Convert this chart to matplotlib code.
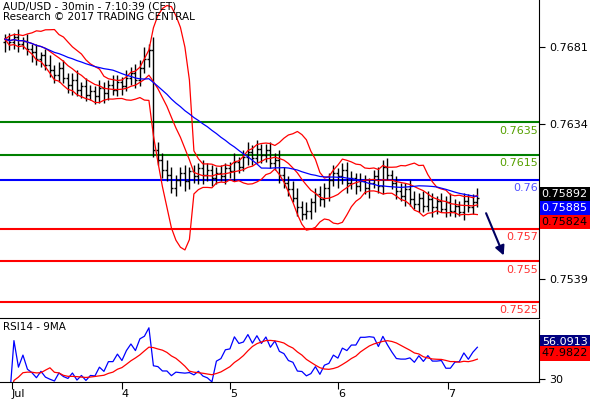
import numpy as np
import pandas as pd
import matplotlib
matplotlib.use("Agg")
import matplotlib.pyplot as plt

closes = [0.7686,0.7684,0.7687,0.7683,0.7685,0.7680,
          0.7678,0.7674,0.7676,0.7670,0.7667,0.7664,0.7668,
          0.7662,0.7658,0.7661,0.7655,0.7657,0.7652,0.7654,
          0.7651,0.7656,0.7653,0.7658,0.7655,0.7660,0.7657,
          0.7662,0.7665,0.7661,0.7668,0.7674,0.7679,0.7618,
          0.7612,0.7606,0.7603,0.7595,0.7600,0.7604,0.7599,
          0.7605,0.7602,0.7607,0.7603,0.7606,0.7601,0.7604,0.7602,0.7607,0.7605,
          0.7611,0.7608,0.7614,0.7617,0.7613,0.7619,0.7615,0.7618,
          0.7610,0.7612,0.7603,0.7598,0.7594,
          0.7589,0.7583,0.7579,0.7581,0.7586,
          0.7591,0.7588,0.7595,0.7600,0.7604,
          0.7602,0.7606,0.7598,0.7601,0.7596,0.7599,0.7595,
          0.7598,0.7602,0.7596,0.7608,0.7603,
          0.7598,0.7593,0.7590,0.7594,0.7588,0.7585,0.7589,0.7584,
          0.7588,0.7583,0.7587,0.7582,0.7586,0.7581,0.7584,0.7580,0.7587,0.7583,
          0.7586,0.7589]
open0 = 0.7684
wicks = [3,4,3,5,2,4,3,5,2,4,6,3,4,5,3,4,6,3,5,4,3,5,4,3,6,4,3,5,4,6,5,7,
         4,8,5,4,6,5,3,4,5,3,4,3,5,4,3,4,5,3,4,5,3,4,6,4,5,3,4,5,4,6,5,4,
         5,6,4,5,3,4,5,3,4,5,3,4,5,4,3,5,4,3,4,6,4,5,3,4,5,4,6,5,3,4,5,4,
         3,5,4,6,4,3,5,4,5,6]
level_values = [0.7635, 0.7615, 0.76, 0.757, 0.755, 0.7525]
level_labels = ["0.7635", "0.7615", "0.76", "0.757", "0.755", "0.7525"]
level_colors = ["#008000", "#008000", "#0000ff", "#ff0000", "#ff0000", "#ff0000"]
level_text_colors = ["#55a000", "#55a000", "#5050ff", "#ff3030", "#ff3030", "#ff3030"]
price_ticks = [0.7681, 0.7634, 0.7539]
day_pos = [1.5, 26, 50, 74, 98.4]
day_labels = ["Jul", "4", "5", "6", "7"]

c = pd.Series(closes)
opens = pd.Series([open0] + closes[:-1])
hi = np.maximum(opens, c) + np.array(wicks) * 0.0001
lo = np.minimum(opens, c) - np.array(wicks[::-1]) * 0.0001
x = np.arange(len(c))

mid = c.rolling(10, min_periods=1).mean()
sd = c.rolling(10, min_periods=2).std().fillna(0)
up, dn = mid + 2 * sd, mid - 2 * sd
ma = c.rolling(25, min_periods=1).mean()

d = c.diff().fillna(0)
g = d.clip(lower=0).rolling(14, min_periods=1).mean()
l = (-d.clip(upper=0)).rolling(14, min_periods=1).mean()
rsi = 100 * g / (g + l).replace(0, 1e-9)
rsi = 50 + (rsi - 50) * 0.7
rsi_ma = rsi.rolling(9, min_periods=1).mean()

fig = plt.figure(figsize=(5.9, 4.0), dpi=100)
ax = fig.add_axes([0, 0.205, 539/590, 0.795])
ax2 = fig.add_axes([0, 0.045, 539/590, 0.155])
xl = (-1.1, 118.7)
for a in (ax, ax2):
    a.set_xlim(*xl)
    a.yaxis.tick_right()
    for s in ("left", "top"):
        a.spines[s].set_visible(False)
    a.tick_params(labelsize=8, direction="out", length=4)
ax.set_ylim(0.75153, 0.77099)

for v, lab, col, tc in zip(level_values, level_labels, level_colors, level_text_colors):
    ax.axhline(v, color=col, lw=1.5)
    ax.text(118.4, v - 0.0002, lab, color=tc, ha="right", va="top", fontsize=8)

ax.vlines(x, lo, hi, color="black", lw=1)
ax.hlines(c, x, x + 0.45, color="black", lw=1)
ax.hlines(opens, x - 0.45, x, color="black", lw=1)
ax.plot(x, up, color="red", lw=0.9)
ax.plot(x, dn, color="red", lw=0.9)
ax.plot(x, mid, color="red", lw=0.9)
ax.plot(x, ma, color="blue", lw=0.9)
ax.annotate("", xy=(111.1, 0.7552), xytext=(106.7, 0.7581),
            arrowprops=dict(arrowstyle="-|>", color="#000060", lw=1.5, mutation_scale=14))
ax.set_yticks(price_ticks)
ax.set_yticklabels([f"{t:.4f}" for t in price_ticks])
ax.set_xticks([])
ax.text(0.005, 0.995, "AUD/USD - 30min - 7:10:39 (CET)\nResearch © 2017 TRADING CENTRAL",
        transform=ax.transAxes, ha="left", va="top", fontsize=7.5, linespacing=1.1)

yt = ax.get_yaxis_transform()
ax.text(1.005, 0.75892 + 0.0002, "0.75892", transform=yt, color="white",
        fontsize=8, va="center", bbox=dict(fc="black", ec="none", pad=1.5))
ax.text(1.005, 0.75892 - 0.00065, "0.75885", transform=yt, color="white",
        fontsize=8, va="center", bbox=dict(fc="blue", ec="none", pad=1.5))
ax.text(1.005, 0.75892 - 0.0015, "0.75824", transform=yt, color="black",
        fontsize=8, va="center", bbox=dict(fc="red", ec="none", pad=1.5))

ax2.set_ylim(27.9, 71.5)
ax2.plot(x, rsi, color="blue", lw=0.9)
ax2.plot(x, rsi_ma, color="red", lw=0.9)
ax2.set_yticks([30, 50])
ax2.set_yticklabels(["30", ""])
ax2.set_xticks(day_pos)
ax2.set_xticklabels(day_labels)
ax2.tick_params(axis="x", length=5, pad=0, labelsize=8)
ax2.text(0.005, 0.97, "RSI14 - 9MA", transform=ax2.transAxes, ha="left", va="top", fontsize=7.5)
yt2 = ax2.get_yaxis_transform()
ax2.text(1.005, 56.09, "56.0913", transform=yt2, color="white",
         fontsize=8, va="center", bbox=dict(fc="#000080", ec="none", pad=1.5))
ax2.text(1.005, 47.98, "47.9822", transform=yt2, color="black",
         fontsize=8, va="center", bbox=dict(fc="red", ec="none", pad=1.5))
for lbl in ax2.get_xticklabels():
    lbl.set_horizontalalignment("left")

fig.savefig("out.png", dpi=100)
